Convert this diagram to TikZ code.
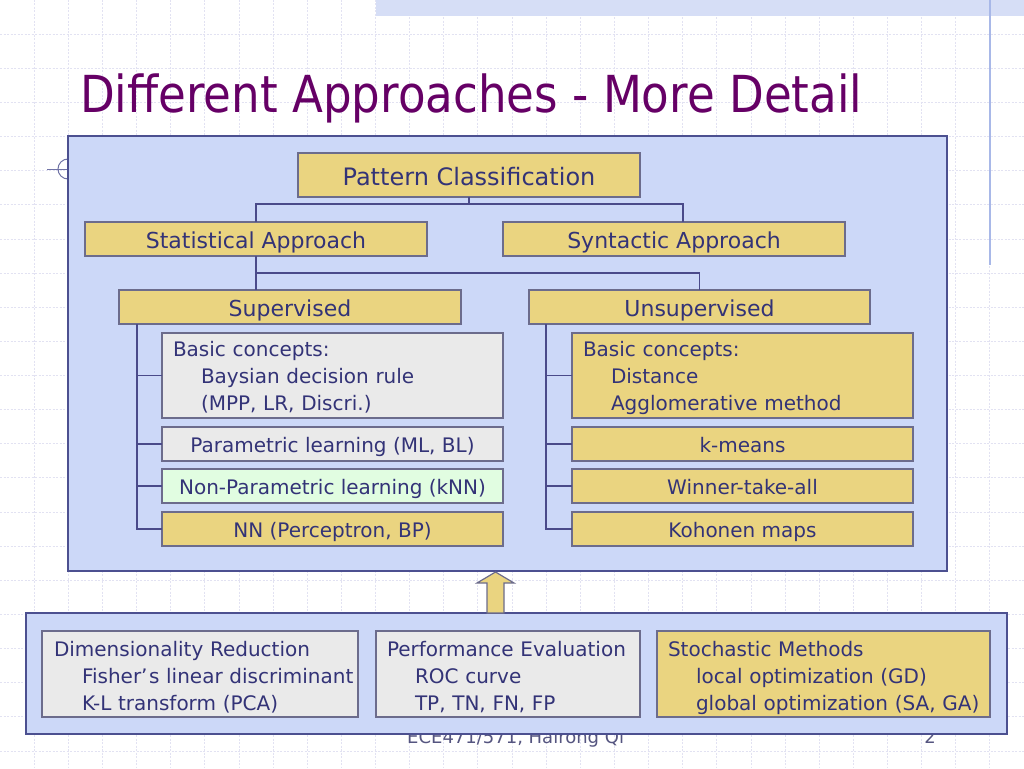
\documentclass[tikz,border=0pt]{standalone}
\usepackage{fontspec}
\setmainfont{DejaVu Sans}
\newfontfamily\titlefont[FakeStretch=0.885]{DejaVu Sans}
\usetikzlibrary{calc}
\definecolor{panelfill}{HTML}{CCD8F8}
\definecolor{panelborder}{HTML}{4C5090}
\definecolor{boxyellow}{HTML}{EAD480}
\definecolor{boxgray}{HTML}{EAEAEA}
\definecolor{boxgreen}{HTML}{E1FDE1}
\definecolor{boxborder}{HTML}{6C6C8C}
\definecolor{linecol}{HTML}{4A4A8A}
\definecolor{txtcol}{HTML}{333377}
\definecolor{titlecol}{HTML}{660066}
\definecolor{gridcol}{HTML}{E2E2F2}
\definecolor{bandcol}{HTML}{D6DEF6}
\definecolor{vlinecol}{HTML}{A8B8E8}
\definecolor{footcol}{HTML}{555580}
\newcommand{\indline}[1]{\mbox{\hspace*{28pt}#1}}
\tikzset{
  gridline/.style={draw=gridcol, line width=0.8pt, dash pattern=on 2pt off 1.5pt},
  panel/.style={draw=panelborder, fill=panelfill, line width=1.3pt, inner sep=0pt, outer sep=0pt},
  basebox/.style={draw=boxborder, line width=1.3pt, inner sep=0pt, outer sep=0pt, text=txtcol},
  ybox/.style={basebox, fill=boxyellow},
  gbox/.style={basebox, fill=boxgray},
  grbox/.style={basebox, fill=boxgreen},
  bigtxt/.style={font=\fontsize{24}{28}\selectfont, text height=21pt, text depth=0pt},
  midtxt/.style={font=\fontsize{22}{26}\selectfont, text height=19.1pt, text depth=0pt},
  smalltxt/.style={font=\fontsize{20}{27}\selectfont, text height=17.4pt, text depth=0pt},
  multi/.style={font=\fontsize{20}{27}\selectfont, text height=17.4pt, text depth=56.4pt, align=left, inner xsep=11pt, inner ysep=0pt},
  conn/.style={draw=linecol, line width=1.5pt},
  fatarrow/.style={draw=boxborder, fill=boxyellow, line width=1.2pt, line join=miter}
}
\begin{document}
\begin{tikzpicture}[x=1pt,y=-1pt]
\useasboundingbox (0,0) rectangle (1024,768);
\fill[white] (0,0) rectangle (1024,768);
% background grid
\foreach \i in {1,...,29} { \draw[gridline] (\i*34.1333,0) -- (\i*34.1333,768); }
\foreach \j in {1,...,22} { \draw[gridline] (0,\j*34.1333) -- (1024,\j*34.1333); }
\fill[bandcol] (376,0) rectangle (1024,16);
\draw[vlinecol, line width=1.5pt] (990,0) -- (990,265);
% left marker
\draw[draw=panelborder!80, line width=1pt] (47,169) -- (68,169);
\draw[draw=panelborder!80, line width=1pt] (68,159) arc (90:270:10pt);
% footer
\node[anchor=base west, inner sep=0pt, text=footcol, font=\fontsize{18}{20}\selectfont] (foot) at (407,743) {ECE471/571, Hairong Qi};
\node[anchor=base, inner sep=0pt, text=footcol, font=\fontsize{18}{20}\selectfont] (pageno) at (930,743) {2};
% title
\node[anchor=base west, inner sep=0pt, text=titlecol, font=\titlefont\fontsize{51}{60}\selectfont] (title) at (80,112) {Different Approaches - More Detail};
% panels
\node[panel, minimum width=879pt, minimum height=435pt] (toppanel) at (507.5,353.5) {};
\node[panel, minimum width=981pt, minimum height=121pt] (botpanel) at (516.5,673.5) {};
% hierarchy boxes
\node[ybox, bigtxt, minimum width=342pt, minimum height=44pt] (pc) at (469,175) {Pattern Classification};
\node[ybox, midtxt, minimum width=342pt, minimum height=34pt] (sa) at (256,239) {Statistical Approach};
\node[ybox, midtxt, minimum width=342pt, minimum height=34pt] (sy) at (674,239) {Syntactic Approach};
\node[ybox, midtxt, minimum width=342pt, minimum height=34pt] (sup) at (290,307) {Supervised};
\node[ybox, midtxt, minimum width=341pt, minimum height=34pt] (usup) at (699.5,307) {Unsupervised};
% supervised column
\node[gbox, multi, text width=319pt, minimum width=341pt, minimum height=85pt] (l1) at (332.5,375.5)
  {Basic concepts:\\\indline{Baysian decision rule}\\\indline{(MPP, LR, Discri.)}};
\node[gbox, smalltxt, minimum width=341pt, minimum height=34pt] (l2) at (332.5,444) {Parametric learning (ML, BL)};
\node[grbox, smalltxt, minimum width=341pt, minimum height=34pt] (l3) at (332.5,486) {Non-Parametric learning (kNN)};
\node[ybox, smalltxt, minimum width=341pt, minimum height=34pt] (l4) at (332.5,529) {NN (Perceptron, BP)};
% unsupervised column
\node[ybox, multi, text width=319pt, minimum width=341pt, minimum height=85pt] (r1) at (742.5,375.5)
  {Basic concepts:\\\indline{Distance}\\\indline{Agglomerative method}};
\node[ybox, smalltxt, minimum width=341pt, minimum height=34pt] (r2) at (742.5,444) {k-means};
\node[ybox, smalltxt, minimum width=341pt, minimum height=34pt] (r3) at (742.5,486) {Winner-take-all};
\node[ybox, smalltxt, minimum width=341pt, minimum height=34pt] (r4) at (742.5,529) {Kohonen maps};
% bottom boxes
\node[gbox, multi, text depth=53.4pt, inner xsep=12pt, text width=292pt, minimum width=316pt, minimum height=86pt] (d1) at (200,674)
  {\mbox{Dimensionality Reduction}\\\indline{Fisher’\kern1.5pt s linear discriminant}\\\indline{K-L transform (PCA)}};
\node[gbox, multi, text depth=53.4pt, text width=242pt, minimum width=264pt, minimum height=86pt] (d2) at (508,674)
  {\mbox{Performance Evaluation}\\\indline{ROC curve}\\\indline{TP, TN, FN, FP}};
\node[ybox, multi, text depth=53.4pt, text width=311pt, minimum width=333pt, minimum height=86pt] (d3) at (823.5,674)
  {\mbox{Stochastic Methods}\\\indline{local optimization (GD)}\\\indline{global optimization (SA, GA)}};
% connectors
\coordinate (pcdrop) at ($(pc.south)+(0,7)$);
\draw[conn] (pc.south) -- (pcdrop) -| (sa.north);
\draw[conn] (pcdrop) -| ($(sy.north)+(9,0)$);
\draw[conn] (sa.south) -- (sa.south |- sup.north);
\coordinate (sadrop) at ($(sa.south)+(0,17)$);
\draw[conn] (sadrop) -| (usup.north);
\coordinate (lv) at ($(sup.south west)+(18,0)$);
\draw[conn] (lv) |- (l4.west);
\draw[conn] (lv |- l1.west) -- (l1.west);
\draw[conn] (lv |- l2.west) -- (l2.west);
\draw[conn] (lv |- l3.west) -- (l3.west);
\coordinate (rv) at ($(usup.south west)+(17,0)$);
\draw[conn] (rv) |- (r4.west);
\draw[conn] (rv |- r1.west) -- (r1.west);
\draw[conn] (rv |- r2.west) -- (r2.west);
\draw[conn] (rv |- r3.west) -- (r3.west);
% fat arrow from bottom panel to top panel
\filldraw[fatarrow] (487,613) -- (487,583) -- (477,583) -- (495.5,572) -- (514,583) -- (504,583) -- (504,613) -- cycle;
\end{tikzpicture}
\end{document}
